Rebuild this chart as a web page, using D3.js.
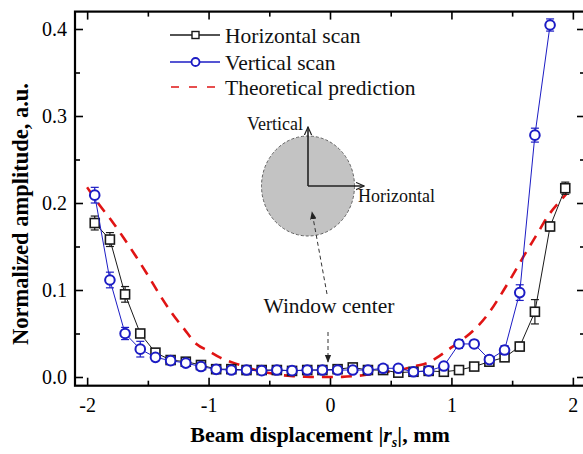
<!DOCTYPE html>
<html>
<head>
<meta charset="utf-8">
<script src="https://cdn.jsdelivr.net/npm/d3@7"></script>
<style>
  html, body { margin: 0; padding: 0; background: #fff; }
  svg { display: block; font-family: "Liberation Serif", "Times New Roman", serif; }
</style>
</head>
<body>
<svg id="chart" width="583" height="454"></svg>
<script>
// Scan positions (mm)
const scanX = [-1.9375,-1.8125,-1.6875,-1.5625,-1.4375,-1.3125,-1.1875,-1.0625,-0.9375,-0.8125,-0.6875,-0.5625,-0.4375,-0.3125,-0.1875,-0.0625,
                0.0625,0.1875,0.3125,0.4375,0.5625,0.6875,0.8125,0.9375,1.0625,1.1875,1.3125,1.4375,1.5625,1.6875,1.8125,1.9375];

// Horizontal scan amplitudes and errors
const horizY = [0.177,0.158,0.095,0.050,0.028,0.0195,0.0176,0.0138,0.009,0.009,0.008,0.008,0.008,0.007,0.008,0.008,
                0.009,0.011,0.008,0.008,0.005,0.006,0.007,0.006,0.008,0.012,0.0176,0.0226,0.035,0.075,0.173,0.217];
const horizErr = [0.008,0.008,0.009,0.004,0.003,0.002,0.002,0.003,0.002,0.002,0.002,0.002,0.002,0.002,0.002,0.002,
                  0.002,0.004,0.002,0.002,0.002,0.002,0.002,0.002,0.002,0.002,0.002,0.003,0.005,0.014,0.005,0.007];

// Vertical scan amplitudes and errors (last position out of range)
const vertX = scanX.slice(0, 31);
const vertY = [0.209,0.1115,0.050,0.032,0.0226,0.0188,0.016,0.012,0.0088,0.008,0.008,0.0073,0.008,0.0073,0.008,0.008,
               0.008,0.008,0.008,0.010,0.010,0.006,0.007,0.0126,0.038,0.038,0.020,0.031,0.097,0.278,0.4046];
const vertErr = [0.009,0.009,0.007,0.009,0.003,0.002,0.002,0.002,0.002,0.002,0.002,0.002,0.002,0.002,0.002,0.002,
                 0.002,0.002,0.002,0.002,0.002,0.002,0.002,0.003,0.005,0.003,0.003,0.005,0.009,0.008,0.007];

// Theoretical prediction
const theoryX = [-2.0,-1.9,-1.8,-1.7,-1.6,-1.5,-1.4,-1.3,-1.2,-1.1,-1.0,-0.9,-0.8,-0.7,-0.6,-0.5,-0.4,-0.3,-0.2,-0.1,0,
                 0.1,0.2,0.3,0.4,0.5,0.6,0.7,0.8,0.9,1.0,1.1,1.2,1.3,1.4,1.5,1.6,1.7,1.8,1.9,1.95];
const theoryY = [0.218,0.198,0.180,0.160,0.139,0.117,0.094,0.073,0.055,0.038,0.030,0.022,0.0165,0.012,0.0075,0.0045,0.0022,0.001,0.0003,0,0,
                 0.0002,0.001,0.0025,0.0045,0.0065,0.009,0.0125,0.016,0.024,0.034,0.044,0.056,0.072,0.093,0.116,0.140,0.163,0.186,0.203,0.211];

// Axis ticks
const xMajor = [-2,-1,0,1,2];
const xMinor = [-1.5,-0.5,0.5,1.5];
const yMajor = [0.0,0.1,0.2,0.3,0.4];
const yMinor = [0.05,0.15,0.25,0.35];

const legendLabels = ["Horizontal scan", "Vertical scan", "Theoretical prediction"];

const colBlack = "#1a1a1a", colBlue = "#1c1cc4", colRed = "#e01414";

const svg = d3.select("#chart");
const x = d3.scaleLinear().domain([-2.1, 2.1]).range([75, 585]);
const y = d3.scaleLinear().domain([-0.01, 0.42]).range([385.7, 11.6]);
const [x0, x1] = x.range();
const [yb, yt] = y.range();

// Axes: ticks point inward on all four sides
function styleAxis(g) {
  g.select(".domain").remove();
  g.selectAll(".tick line").attr("stroke", "#000").attr("stroke-width", 1.6);
  g.selectAll("text").attr("fill", "#000").style("font-size", "20px")
    .style("font-family", "'Liberation Serif', 'Times New Roman', serif");
}
const hyphenInt = d => String(d);   // plain hyphen-minus for negative labels
svg.append("g").attr("transform", `translate(0,${yb})`)
  .call(d3.axisBottom(x).tickValues(xMajor).tickSizeInner(-8).tickSizeOuter(0).tickPadding(12).tickFormat(hyphenInt))
  .call(styleAxis);
svg.append("g").attr("transform", `translate(0,${yb})`)
  .call(d3.axisBottom(x).tickValues(xMinor).tickSizeInner(-5).tickSizeOuter(0).tickFormat(""))
  .call(styleAxis);
svg.append("g").attr("transform", `translate(0,${yt})`)
  .call(d3.axisTop(x).tickValues(xMajor).tickSizeInner(-8).tickSizeOuter(0).tickFormat(""))
  .call(styleAxis);
svg.append("g").attr("transform", `translate(0,${yt})`)
  .call(d3.axisTop(x).tickValues(xMinor).tickSizeInner(-5).tickSizeOuter(0).tickFormat(""))
  .call(styleAxis);
svg.append("g").attr("transform", `translate(${x0},0)`)
  .call(d3.axisLeft(y).tickValues(yMajor).tickSizeInner(-8).tickSizeOuter(0).tickPadding(8).tickFormat(d3.format(".1f")))
  .call(styleAxis);
svg.append("g").attr("transform", `translate(${x0},0)`)
  .call(d3.axisLeft(y).tickValues(yMinor).tickSizeInner(-5).tickSizeOuter(0).tickFormat(""))
  .call(styleAxis);
svg.append("g").attr("transform", `translate(${x1},0)`)
  .call(d3.axisRight(y).tickValues(yMajor).tickSizeInner(-8).tickSizeOuter(0).tickFormat(""))
  .call(styleAxis);
svg.append("g").attr("transform", `translate(${x1},0)`)
  .call(d3.axisRight(y).tickValues(yMinor).tickSizeInner(-5).tickSizeOuter(0).tickFormat(""))
  .call(styleAxis);

// Plot frame
svg.append("rect").attr("x", x0).attr("y", yt).attr("width", x1 - x0).attr("height", yb - yt)
  .attr("fill", "none").attr("stroke", "#000").attr("stroke-width", 2.2);

// Axis titles
const xt = svg.append("text").attr("x", 320).attr("y", 442).attr("text-anchor", "middle")
  .style("font-size", "22px").style("font-weight", "bold");
xt.append("tspan").text("Beam displacement |");
xt.append("tspan").style("font-style", "italic").text("r");
xt.append("tspan").attr("dy", 5).style("font-size", "14px").style("font-style", "italic").text("s");
xt.append("tspan").attr("dy", -5).text("|, mm");

svg.append("text").attr("transform", "translate(28,214) rotate(-90)").attr("text-anchor", "middle")
  .style("font-size", "22.5px").style("font-weight", "bold").text("Normalized amplitude, a.u.");

const plot = svg.append("g");

// Theoretical curve
const th = theoryX.map((d, i) => [d, theoryY[i]]);
plot.append("path").datum(th)
  .attr("d", d3.line().x(d => x(d[0])).y(d => y(d[1])).curve(d3.curveMonotoneX))
  .attr("fill", "none").attr("stroke", colRed).attr("stroke-width", 2.6).attr("stroke-dasharray", "11,8");

function drawSeries(xs, ys, es, color, shape) {
  const pts = xs.map((d, i) => ({ x: d, y: ys[i], e: es[i] }));
  const g = plot.append("g");
  g.append("path").datum(pts)
    .attr("d", d3.line().x(d => x(d.x)).y(d => y(d.y)))
    .attr("fill", "none").attr("stroke", color).attr("stroke-width", 1);
  const eb = g.selectAll(".eb").data(pts).join("g").attr("stroke", color).attr("stroke-width", 1.2);
  eb.append("line").attr("x1", d => x(d.x)).attr("x2", d => x(d.x))
    .attr("y1", d => y(d.y - d.e)).attr("y2", d => y(d.y + d.e));
  eb.append("line").attr("x1", d => x(d.x) - 4).attr("x2", d => x(d.x) + 4)
    .attr("y1", d => y(d.y + d.e)).attr("y2", d => y(d.y + d.e));
  eb.append("line").attr("x1", d => x(d.x) - 4).attr("x2", d => x(d.x) + 4)
    .attr("y1", d => y(d.y - d.e)).attr("y2", d => y(d.y - d.e));
  if (shape === "square") {
    g.selectAll(".m").data(pts).join("rect")
      .attr("x", d => x(d.x) - 4.5).attr("y", d => y(d.y) - 4.5).attr("width", 9).attr("height", 9)
      .attr("fill", "#fff").attr("stroke", color).attr("stroke-width", 1.6);
  } else {
    g.selectAll(".m").data(pts).join("circle")
      .attr("cx", d => x(d.x)).attr("cy", d => y(d.y)).attr("r", 4.8)
      .attr("fill", "#fff").attr("stroke", color).attr("stroke-width", 2);
  }
}
drawSeries(scanX, horizY, horizErr, colBlack, "square");
drawSeries(vertX, vertY, vertErr, colBlue, "circle");

// Legend
const lg = svg.append("g");
const rows = [35, 62, 87];
lg.append("line").attr("x1", 170).attr("x2", 220).attr("y1", rows[0]).attr("y2", rows[0]).attr("stroke", colBlack).attr("stroke-width", 1.4);
lg.append("rect").attr("x", 192).attr("y", rows[0] - 3.5).attr("width", 7).attr("height", 7).attr("fill", "#fff").attr("stroke", colBlack).attr("stroke-width", 1.4);
lg.append("line").attr("x1", 170).attr("x2", 220).attr("y1", rows[1]).attr("y2", rows[1]).attr("stroke", colBlue).attr("stroke-width", 1.4);
lg.append("circle").attr("cx", 195.5).attr("cy", rows[1]).attr("r", 4).attr("fill", "#fff").attr("stroke", colBlue).attr("stroke-width", 1.8);
lg.append("line").attr("x1", 171).attr("x2", 220).attr("y1", rows[2]).attr("y2", rows[2]).attr("stroke", colRed).attr("stroke-width", 1.6).attr("stroke-dasharray", "8,10");
lg.selectAll(".lt").data(legendLabels).join("text")
  .attr("x", 225).attr("y", (d, i) => rows[i] + 7.5).style("font-size", "21.5px").attr("fill", "#111").text(d => d);

// Inset: window cross-section with scan directions
const defs = svg.append("defs");
defs.append("marker").attr("id", "open").attr("viewBox", "0 0 10 10").attr("refX", 9).attr("refY", 5)
  .attr("markerWidth", 9).attr("markerHeight", 9).attr("orient", "auto").attr("markerUnits", "userSpaceOnUse")
  .append("path").attr("d", "M0,1 L9,5 L0,9").attr("fill", "none").attr("stroke", "#222").attr("stroke-width", 1.3);
defs.append("marker").attr("id", "solid").attr("viewBox", "0 0 10 10").attr("refX", 9).attr("refY", 5)
  .attr("markerWidth", 8).attr("markerHeight", 8).attr("orient", "auto").attr("markerUnits", "userSpaceOnUse")
  .append("path").attr("d", "M0,1 L10,5 L0,9 Z").attr("fill", "#222");

const cx = 308, cy = 186;
svg.append("ellipse").attr("cx", cx).attr("cy", cy).attr("rx", 46.5).attr("ry", 50)
  .attr("fill", "#c3c3c3").attr("stroke", "#555").attr("stroke-width", 0.9).attr("stroke-dasharray", "3,2");
svg.append("line").attr("x1", cx).attr("y1", cy).attr("x2", cx).attr("y2", 127)
  .attr("stroke", "#222").attr("stroke-width", 1.6).attr("marker-end", "url(#open)");
svg.append("line").attr("x1", cx).attr("y1", cy).attr("x2", 364).attr("y2", cy)
  .attr("stroke", "#222").attr("stroke-width", 1.6).attr("marker-end", "url(#open)");
svg.append("text").attr("x", 247).attr("y", 130).style("font-size", "18px").attr("fill", "#111").text("Vertical");
svg.append("text").attr("x", 358).attr("y", 202).style("font-size", "18px").attr("fill", "#111").text("Horizontal");

svg.append("line").attr("x1", 327).attr("y1", 294).attr("x2", 312).attr("y2", 212)
  .attr("stroke", "#333").attr("stroke-width", 1).attr("stroke-dasharray", "4,3").attr("marker-end", "url(#solid)");
svg.append("text").attr("x", 329).attr("y", 313).attr("text-anchor", "middle").style("font-size", "21.5px").attr("fill", "#111").text("Window center");
svg.append("line").attr("x1", 328).attr("y1", 332).attr("x2", 328).attr("y2", 362)
  .attr("stroke", "#333").attr("stroke-width", 1).attr("stroke-dasharray", "4,3").attr("marker-end", "url(#solid)");
</script>
</body>
</html>
